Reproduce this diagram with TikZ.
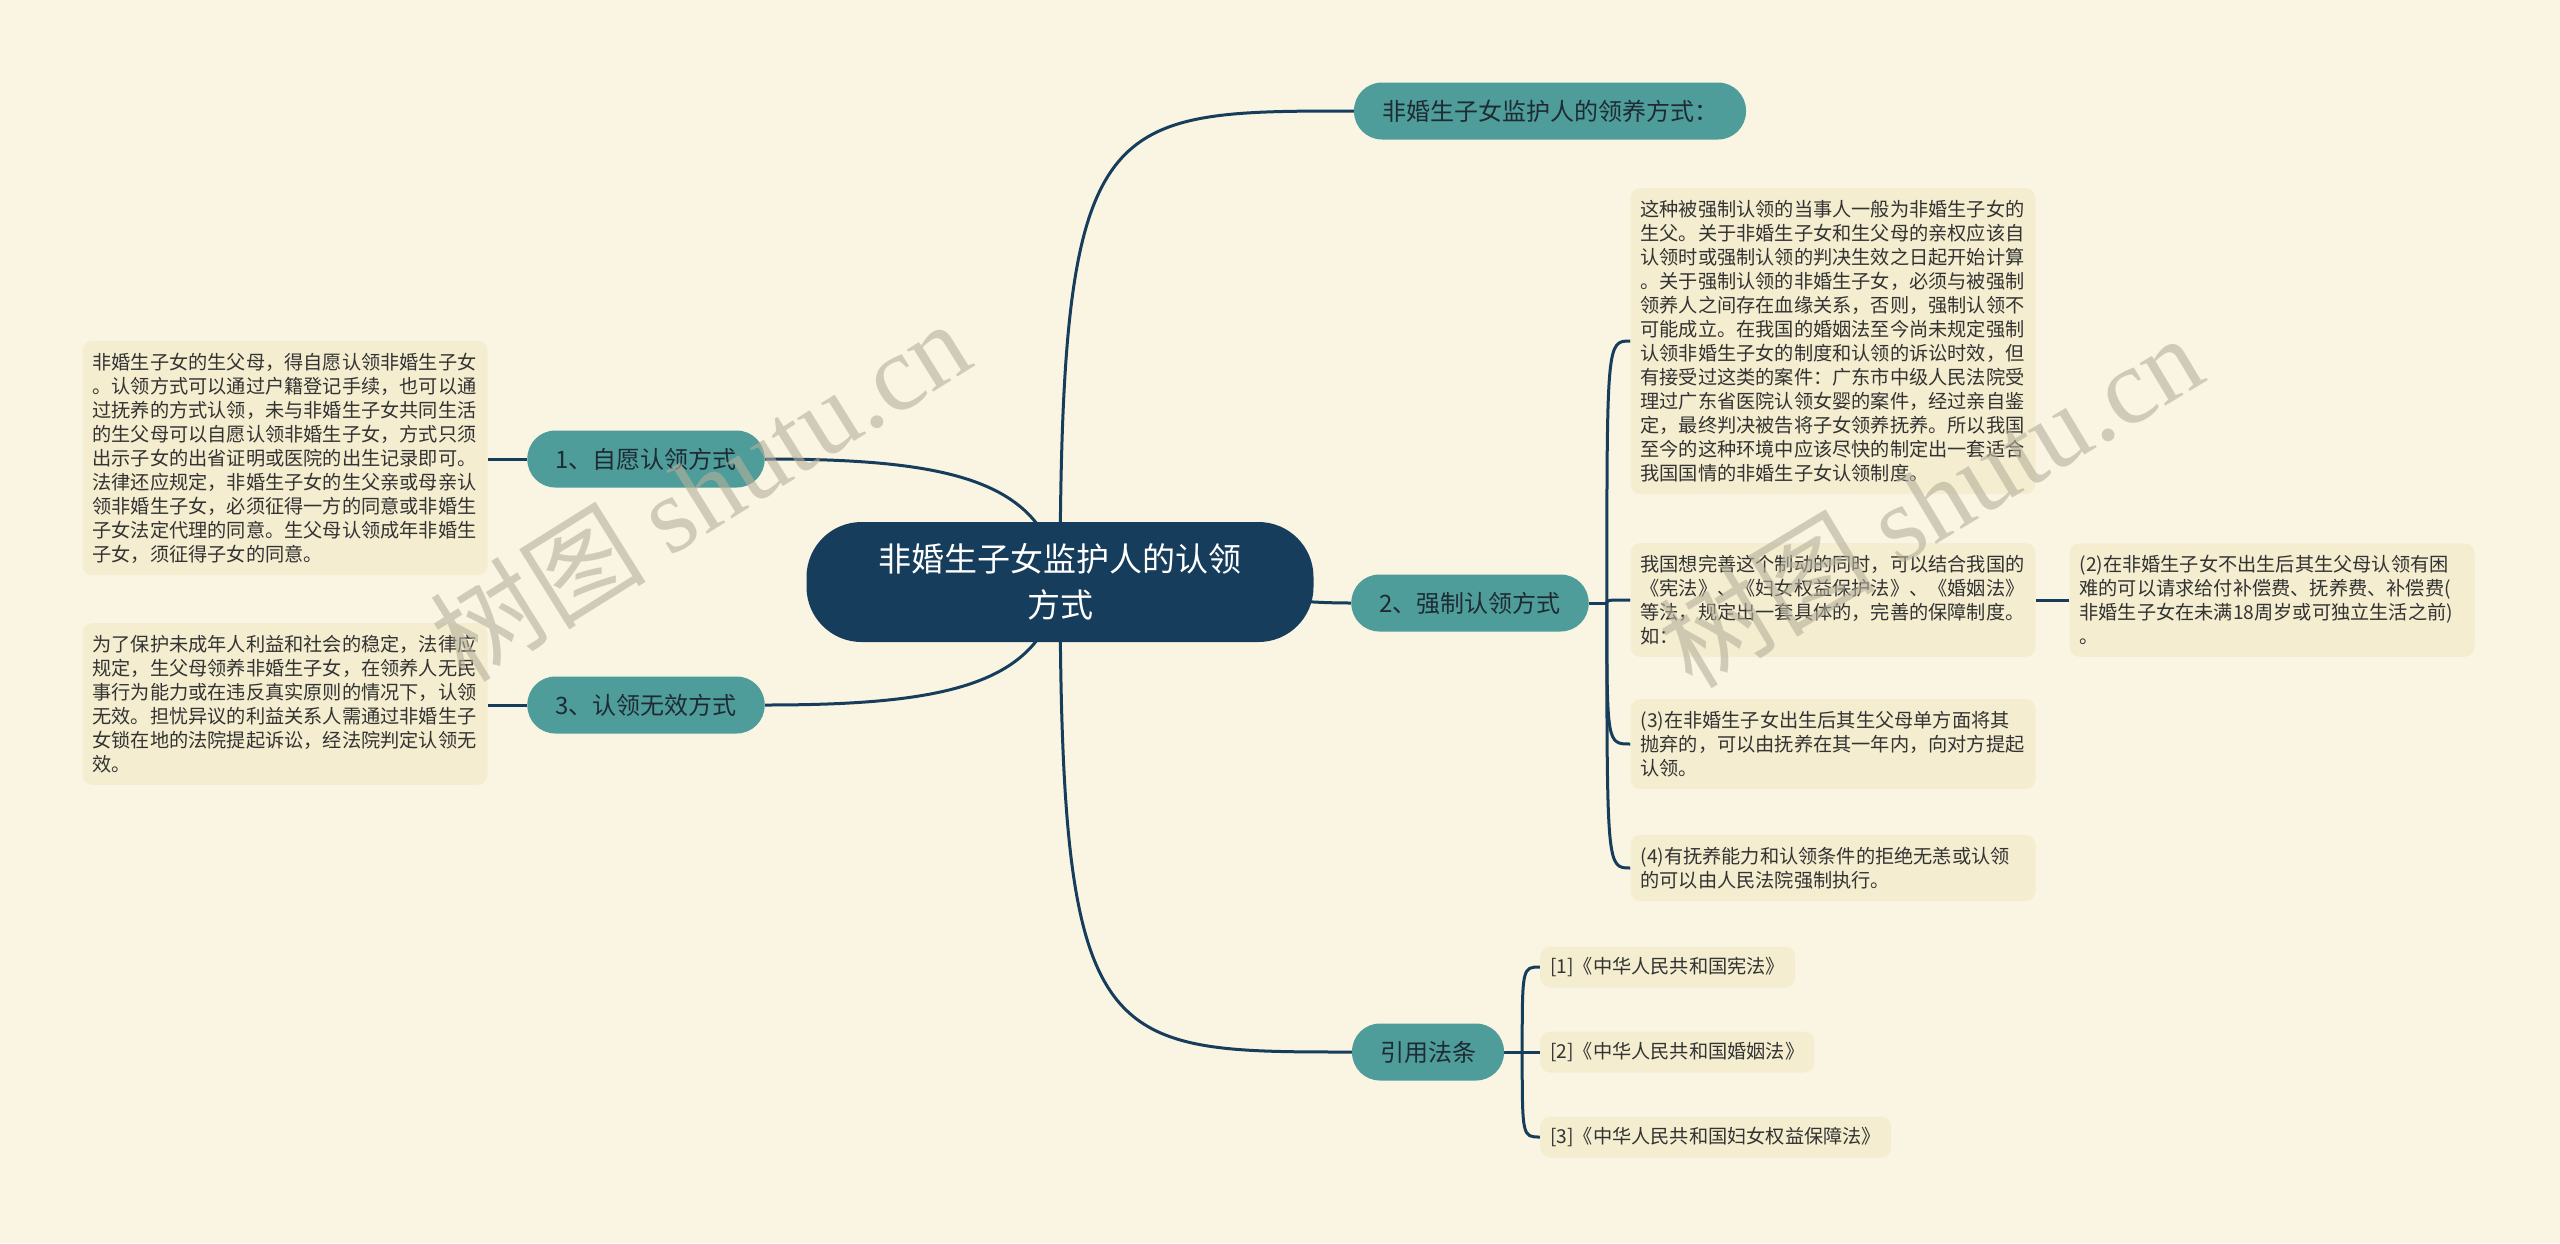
\documentclass[tikz,border=0pt]{standalone}
\usepackage{fontspec}
\setmainfont{Noto Sans CJK SC}
\newfontfamily\wmlatin{Liberation Serif}
\usepackage{xcolor}
\usetikzlibrary{positioning,backgrounds}

\definecolor{bgcream}{HTML}{FAF5E2}
\definecolor{rootblue}{HTML}{173D5C}
\definecolor{topicteal}{HTML}{4E9D9B}
\definecolor{topictext}{HTML}{1E2B33}
\definecolor{leaffill}{HTML}{F4EDCF}
\definecolor{leaftext}{HTML}{333333}
\definecolor{wmgray}{HTML}{B5B09C}

\begin{document}
\begin{tikzpicture}[x=1pt,y=-1pt,
    root/.style={fill=rootblue, text=white, rounded corners=55pt, minimum width=507pt, minimum height=120pt, align=center, font=\fontsize{33}{46}\selectfont},
    topic/.style={fill=topicteal, text=topictext, rounded corners=28pt, minimum height=57pt, inner xsep=28pt, font=\fontsize{24}{28}\selectfont},
    leaf/.style={fill=leaffill, text=leaftext, rounded corners=10pt, inner xsep=10pt, inner ysep=12pt, text width=385pt, align=left, font=\fontsize{19.2}{24}\selectfont},
    lawref/.style={fill=leaffill, text=leaftext, rounded corners=10pt, inner xsep=10pt, minimum height=41pt, anchor=west, font=\fontsize{19.2}{24}\selectfont},
    link/.style={draw=rootblue, line width=3pt}]
    \useasboundingbox (0,0) rectangle (2560,1243);

    % Centre and main topics
    \node[root] (main) at (1060,582) {非婚生子女监护人的认领\\方式};
    \node[topic] (adopt) at (1550,111) {非婚生子女监护人的领养方式：};
    \node[topic] (vol) at (646,459) {1、自愿认领方式};
    \node[topic] (force) at (1470,603) {2、强制认领方式};
    \node[topic] (invalid) at (646,705) {3、认领无效方式};
    \node[topic] (laws) at (1428,1052) {引用法条};

    % Left details
    \node[leaf] (volText) at (285,458) {非婚生子女的生父母，得自愿认领非婚生子女\\。认领方式可以通过户籍登记手续，也可以通\\过抚养的方式认领，未与非婚生子女共同生活\\的生父母可以自愿认领非婚生子女，方式只须\\出示子女的出省证明或医院的出生记录即可。\\法律还应规定，非婚生子女的生父亲或母亲认\\领非婚生子女，必须征得一方的同意或非婚生\\子女法定代理的同意。生父母认领成年非婚生\\子女，须征得子女的同意。};
    \node[leaf] (invalidText) at (285,704) {为了保护未成年人利益和社会的稳定，法律应\\规定，生父母领养非婚生子女，在领养人无民\\事行为能力或在违反真实原则的情况下，认领\\无效。担忧异议的利益关系人需通过非婚生子\\女锁在地的法院提起诉讼，经法院判定认领无\\效。};

    % Right details
    \node[leaf] (forceA) at (1833,341) {这种被强制认领的当事人一般为非婚生子女的\\生父。关于非婚生子女和生父母的亲权应该自\\认领时或强制认领的判决生效之日起开始计算\\。关于强制认领的非婚生子女，必须与被强制\\领养人之间存在血缘关系，否则，强制认领不\\可能成立。在我国的婚姻法至今尚未规定强制\\认领非婚生子女的制度和认领的诉讼时效，但\\有接受过这类的案件：广东市中级人民法院受\\理过广东省医院认领女婴的案件，经过亲自鉴\\定，最终判决被告将子女领养抚养。所以我国\\至今的这种环境中应该尽快的制定出一套适合\\我国国情的非婚生子女认领制度。};
    \node[leaf] (forceB) at (1833,600) {我国想完善这个制动的同时，可以结合我国的\\《宪法》、《妇女权益保护法》、《婚姻法》\\等法，规定出一套具体的，完善的保障制度。\\如：};
    \node[leaf] (forceB2) at (2272,600) {(2)在非婚生子女不出生后其生父母认领有困\\难的可以请求给付补偿费、抚养费、补偿费(\\非婚生子女在未满18周岁或可独立生活之前)\\。};
    \node[leaf] (forceC) at (1833,744) {(3)在非婚生子女出生后其生父母单方面将其\\抛弃的，可以由抚养在其一年内，向对方提起\\认领。};
    \node[leaf] (forceD) at (1833,868) {(4)有抚养能力和认领条件的拒绝无恙或认领\\的可以由人民法院强制执行。};

    % Cited laws
    \node[lawref] (lawA) at (1540,967) {[1]《中华人民共和国宪法》};
    \node[lawref] (lawB) at (1540,1052) {[2]《中华人民共和国婚姻法》};
    \node[lawref] (lawC) at (1540,1137) {[3]《中华人民共和国妇女权益保障法》};

    % Connectors
    \begin{pgfonlayer}{background}
        \fill[bgcream] (0,0) rectangle (2560,1243);
        \draw[link] (main.center) .. controls (1061,111) and (1100,111) .. (adopt.west);
        \draw[link] (main.center) .. controls (1061,1052) and (1100,1052) .. (laws.west);
        \draw[link] (main.center) .. controls (1200,582) and (1250,603) .. (force.west);
        \draw[link] (main.center) .. controls (1045,480) and (950,459) .. (vol.east);
        \draw[link] (main.center) .. controls (1045,684) and (950,705) .. (invalid.east);
        \draw[link] (vol.west) -- (volText.east |- vol.west);
        \draw[link] (invalid.west) -- (invalidText.east |- invalid.west);
        \draw[link] (force.east) -- ++(18,0) coordinate (forceJ);
        \foreach \leafname in {forceA,forceB,forceC,forceD}
            \draw[link] (forceJ) .. controls (forceJ |- \leafname.west) .. (\leafname.west);
        \draw[link] (forceB.east) -- (forceB2.west);
        \draw[link] (laws.east) -- ++(18,0) coordinate (lawsJ);
        \foreach \leafname in {lawA,lawB,lawC}
            \draw[link] (lawsJ) .. controls (lawsJ |- \leafname.west) .. (\leafname.west);
    \end{pgfonlayer}

    % Watermark
    \node[rotate=32, text=wmgray, opacity=0.6, font=\fontsize{108}{112}\selectfont] (wmLeft) at (700,490) {树图 {\wmlatin shutu.cn}};
    \node[rotate=31, text=wmgray, opacity=0.6, font=\fontsize{108}{112}\selectfont] (wmRight) at (1930,500) {树图 {\wmlatin shutu.cn}};
\end{tikzpicture}
\end{document}
